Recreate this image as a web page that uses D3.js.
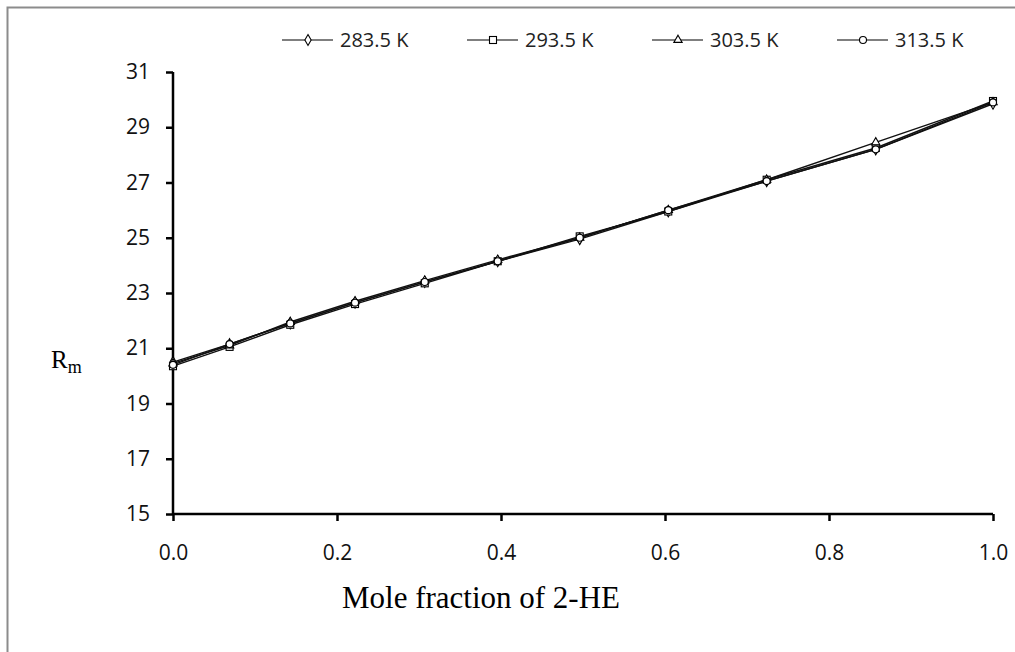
<!DOCTYPE html>
<html>
<head>
<meta charset="utf-8">
<script src="https://cdn.jsdelivr.net/npm/d3@7"></script>
<style>
  body { margin: 0; background: #fff; }
  svg { display: block; }
</style>
</head>
<body>
<svg id="chart" width="1015" height="652"></svg>
<script>
// mole fraction of 2-HE
const moleFraction = [0, 0.069, 0.143, 0.222, 0.307, 0.396, 0.496, 0.604, 0.724, 0.857, 1.0];

const rm283 = [20.50, 21.15, 21.90, 22.65, 23.40, 24.15, 24.95, 25.95, 27.05, 28.20, 29.85];
const rm293 = [20.35, 21.05, 21.85, 22.60, 23.35, 24.15, 25.05, 25.95, 27.10, 28.25, 29.95];
const rm303 = [20.45, 21.10, 21.95, 22.70, 23.45, 24.20, 25.00, 26.00, 27.10, 28.45, 29.90];
const rm313 = [20.40, 21.15, 21.90, 22.65, 23.40, 24.15, 25.00, 26.00, 27.05, 28.20, 29.90];

const seriesNames = ["283.5 K", "293.5 K", "303.5 K", "313.5 K"];
const seriesValues = [rm283, rm293, rm303, rm313];
const xTicks = [0, 0.2, 0.4, 0.6, 0.8, 1.0];
const yTicks = [15, 17, 19, 21, 23, 25, 27, 29, 31];

const svg = d3.select("#chart");

/* frame */
svg.append("rect")
    .attr("x", 7.5).attr("y", 7.5)
    .attr("width", 1030).attr("height", 680)
    .attr("fill", "none")
    .attr("stroke", "#8c8c8c")
    .attr("stroke-width", 2);

const x = d3.scaleLinear().domain([0, 1]).range([173, 993]);
const y = d3.scaleLinear().domain([15, 31]).range([514, 72]);

const tickFont = "'Open Sans', 'Noto Sans', sans-serif";

/* axes */
const yAxis = svg.append("g")
    .attr("transform", "translate(173,0)")
    .call(d3.axisLeft(y).tickValues(yTicks).tickSize(7).tickPadding(16).tickFormat(d3.format("d")));
const xAxis = svg.append("g")
    .attr("transform", "translate(0,514)")
    .call(d3.axisBottom(x).tickValues(xTicks).tickSize(7).tickPadding(24).tickFormat(d3.format(".1f")));

[xAxis, yAxis].forEach(a => {
    a.attr("font-size", null);
    a.select(".domain").attr("stroke", "#000").attr("stroke-width", 2.5);
    a.selectAll(".tick line").attr("stroke", "#000").attr("stroke-width", 2.5);
    a.selectAll(".tick text")
        .attr("fill", "#111")
        .style("font-family", tickFont)
        .style("font-size", "21px");
});
yAxis.select(".domain").attr("d", "M0,514V72");
xAxis.select(".domain").attr("d", "M173,0H993");

/* axis titles */
svg.append("text")
    .attr("x", 481).attr("y", 608)
    .attr("text-anchor", "middle")
    .style("font-family", "'Liberation Serif', serif")
    .style("font-size", "31px")
    .text("Mole fraction of 2-HE");

const rLabel = svg.append("text")
    .attr("x", 51).attr("y", 368)
    .style("font-family", "'Liberation Serif', serif")
    .style("font-size", "25px")
    .text("R");
rLabel.append("tspan")
    .attr("dy", 5)
    .style("font-size", "18px")
    .text("m");

/* markers */
const markerShapes = [
    (g) => g.append("path").attr("d", d3.symbol(d3.symbolDiamond, 34)()),
    (g) => g.append("rect").attr("x", -3.5).attr("y", -3.5).attr("width", 7).attr("height", 7),
    (g) => g.append("path").attr("d", d3.symbol(d3.symbolTriangle, 30)()),
    (g) => g.append("circle").attr("r", 3.5)
];

const line = d3.line()
    .x((d, i) => x(moleFraction[i]))
    .y(d => y(d));

seriesValues.forEach((vals, s) => {
    svg.append("path")
        .datum(vals)
        .attr("d", line)
        .attr("fill", "none")
        .attr("stroke", "#111")
        .attr("stroke-width", 1.4);
});

seriesValues.forEach((vals, s) => {
    svg.append("g").selectAll("g")
        .data(vals)
        .join("g")
        .attr("transform", (d, i) => `translate(${x(moleFraction[i])},${y(d)})`)
        .each(function () {
            markerShapes[s](d3.select(this))
                .attr("fill", "#fff")
                .attr("stroke", "#000")
                .attr("stroke-width", 1.1);
        });
});

/* legend */
const legend = svg.append("g").attr("transform", "translate(282,40)");
legend.selectAll("g")
    .data(seriesNames)
    .join("g")
    .attr("transform", (d, i) => `translate(${i * 185},0)`)
    .each(function (d, i) {
        const g = d3.select(this);
        g.append("line")
            .attr("x1", 0).attr("x2", 51)
            .attr("stroke", "#000").attr("stroke-width", 1.2);
        markerShapes[i](g.append("g").attr("transform", "translate(26,0)"))
            .attr("fill", "#fff")
            .attr("stroke", "#000")
            .attr("stroke-width", 1.1);
        g.append("text")
            .attr("x", 58).attr("y", 7)
            .attr("fill", "#222")
            .style("font-family", tickFont)
            .style("font-size", "20px")
            .text(d);
    });
</script>
</body>
</html>
